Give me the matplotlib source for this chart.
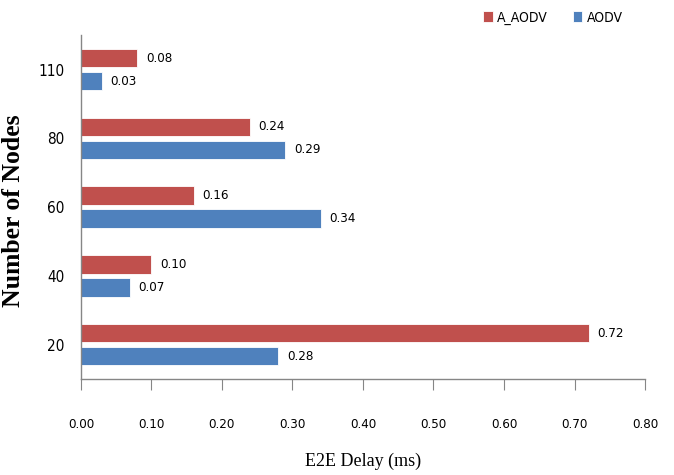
import numpy as np
import matplotlib.pyplot as plt

nodes = ["20", "40", "60", "80", "110"]
a_aodv = [0.72, 0.10, 0.16, 0.24, 0.08]
aodv = [0.28, 0.07, 0.34, 0.29, 0.03]

red = "#C0504D"
blue = "#4F81BD"
num_kw = dict(family="DejaVu Sans", fontstretch="condensed")

fig = plt.figure(figsize=(6.74, 4.75), dpi=100)
ax = fig.add_axes([0.120, 0.202, 0.837, 0.724])

y = np.arange(len(nodes))
h = 0.27
off = 0.167
b1 = ax.barh(y + off, a_aodv, height=h, color=red, edgecolor="white", linewidth=0.6, label="A_AODV")
b2 = ax.barh(y - off, aodv, height=h, color=blue, edgecolor="white", linewidth=0.6, label="AODV")

for bars, vals in ((b1, a_aodv), (b2, aodv)):
    for bar, v in zip(bars, vals):
        ax.text(v + 0.012, bar.get_y() + bar.get_height() / 2, f"{v:.2f}",
                va="center", ha="left", fontsize=9.5, **num_kw)

ax.set_xlim(0, 0.8)
ax.set_ylim(-0.5, 4.5)
ax.set_xticks(np.arange(0, 0.81, 0.1))
ax.set_xticklabels([f"{t:.2f}" for t in np.arange(0, 0.81, 0.1)], fontsize=9.5, **num_kw)
ax.set_yticks(y)
ax.set_yticklabels(nodes, fontsize=11, **num_kw)

for s in ("top", "right"):
    ax.spines[s].set_visible(False)
for s in ("left", "bottom"):
    ax.spines[s].set_color("#868686")
    ax.spines[s].set_linewidth(1.0)
ax.tick_params(axis="x", direction="out", length=8, color="#868686", pad=20)
ax.tick_params(axis="y", length=0, pad=12)

ax.set_xlabel("E2E Delay (ms)", family="Liberation Serif", fontsize=13, labelpad=16)
ax.set_ylabel("Number of Nodes", family="Liberation Serif", fontsize=18.5, fontweight="bold")
ax.yaxis.set_label_coords(-0.099, 0.49)

fig.legend(handles=[b1, b2], loc="center", bbox_to_anchor=(0.82, 0.963), ncol=2, frameon=False,
           prop={"family": "DejaVu Sans", "stretch": "condensed", "size": 10}, handlelength=0.7,
           handleheight=0.9, handletextpad=0.3, columnspacing=1.8)

fig.savefig("out.png", dpi=100)
